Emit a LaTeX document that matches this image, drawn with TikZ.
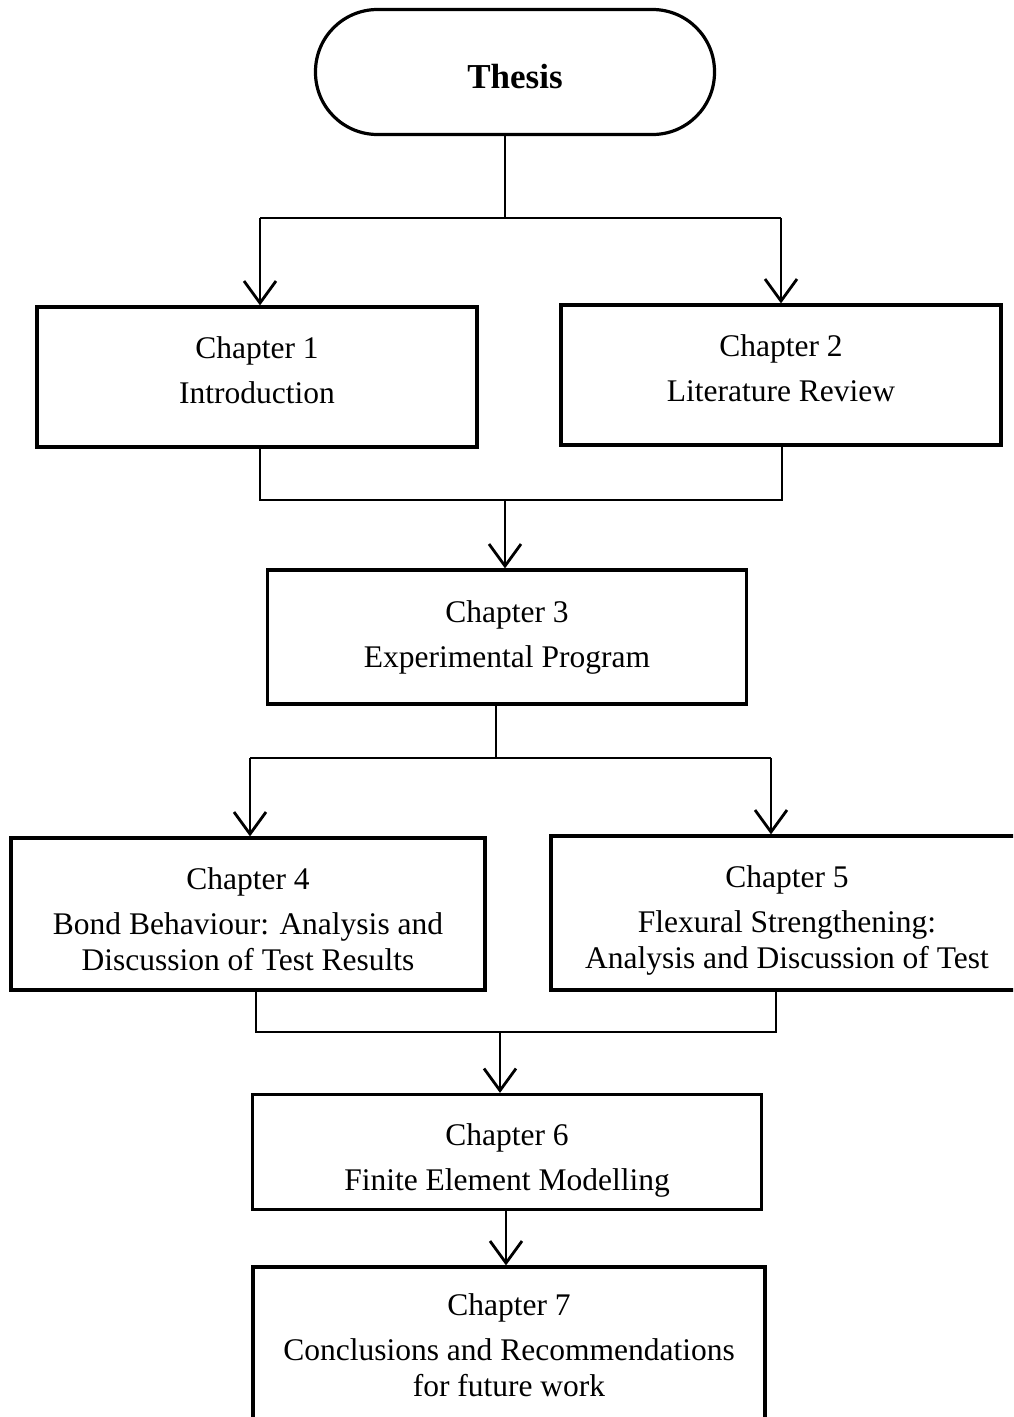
\documentclass[tikz,border=0pt]{standalone}
\usepackage{fontspec}
\setmainfont{Liberation Serif}
\usetikzlibrary{arrows.meta}
\begin{document}
\begin{tikzpicture}[x=1pt,y=-1pt,
  box/.style={draw, line width=3.2pt, inner sep=0pt},
  txt/.style={align=center, inner sep=0pt, font=\fontsize{31.5}{36}\selectfont},
  conn/.style={line width=2.8pt},
  arr/.style={line width=2.8pt, -{Straight Barb[length=22pt,width=32pt,line width=2.8pt]}}]
\useasboundingbox (0,0) rectangle (1013,1417);
\clip (0,0) rectangle (1013,1417);
\fill[white] (0,0) rectangle (1013,1417);

\node[box, minimum width=399pt, minimum height=125pt, rounded corners=62pt] (th) at (515,72) {};
\node[txt, font=\fontsize{35}{40}\selectfont\bfseries, yshift=-5pt] (tht) at (th) {Thesis};

\node[box, minimum width=440pt, minimum height=140pt] (c1) at (257,377) {};
\node[txt, yshift=7pt] (t1) at (c1) {Chapter 1\\[9pt]Introduction};
\node[box, minimum width=440pt, minimum height=140pt] (c2) at (781,375) {};
\node[txt, yshift=7pt] (t2) at (c2) {Chapter 2\\[9pt]Literature Review};
\node[box, minimum width=479pt, minimum height=134pt] (c3) at (507,637) {};
\node[txt] (t3) at (c3) {Chapter 3\\[9pt]Experimental Program};
\node[box, minimum width=474pt, minimum height=152pt] (c4) at (248,914) {};
\node[txt, yshift=-5pt] (t4) at (c4) {Chapter 4\\[9pt]Bond Behaviour: Analysis and\\Discussion of Test Results};
\node[box, minimum width=472pt, minimum height=154pt] (c5) at (787,913) {};
\node[txt, yshift=-7pt] (t5) at (c5) {Chapter 5\\[9pt]Flexural Strengthening:\\Analysis and Discussion of Test};
\node[box, minimum width=509pt, minimum height=115pt] (c6) at (507,1152) {};
\node[txt, yshift=-8pt] (t6) at (c6) {Chapter 6\\[9pt]Finite Element Modelling};
\node[box, minimum width=512pt, minimum height=156pt] (c7) at (509,1345) {};
\node[txt] (t7) at (c7) {Chapter 7\\[9pt]Conclusions and Recommendations\\for future work};

% Thesis -> Ch1, Ch2
\coordinate (j1) at (505,218);
\coordinate (j1l) at (260,218);
\coordinate (j1r) at (781,218);
\draw[conn] (j1 |- th.south) -- (j1);
\draw[conn] (j1l) -- (j1r);
\draw[arr] (j1l) -- (j1l |- c1.north);
\draw[arr] (j1r) -- (j1r |- c2.north);

% Ch1, Ch2 -> Ch3
\coordinate (j2l) at (260,500);
\coordinate (j2r) at (782,500);
\coordinate (j2) at (505,500);
\draw[conn] (j2l |- c1.south) -- (j2l) -- (j2r) -- (j2r |- c2.south);
\draw[arr] (j2) -- (j2 |- c3.north);

% Ch3 -> Ch4, Ch5
\coordinate (j3) at (496,758);
\coordinate (j3l) at (250,758);
\coordinate (j3r) at (771,758);
\draw[conn] (j3 |- c3.south) -- (j3);
\draw[conn] (j3l) -- (j3r);
\draw[arr] (j3l) -- (j3l |- c4.north);
\draw[arr] (j3r) -- (j3r |- c5.north);

% Ch4, Ch5 -> Ch6
\coordinate (j4l) at (256,1032);
\coordinate (j4r) at (776,1032);
\coordinate (j4) at (500,1032);
\draw[conn] (j4l |- c4.south) -- (j4l) -- (j4r) -- (j4r |- c5.south);
\draw[arr] (j4) -- (j4 |- c6.north);

% Ch6 -> Ch7
\coordinate (j5) at (506,1210);
\draw[arr] (j5 |- c6.south) -- (j5 |- c7.north);
\end{tikzpicture}
\end{document}
